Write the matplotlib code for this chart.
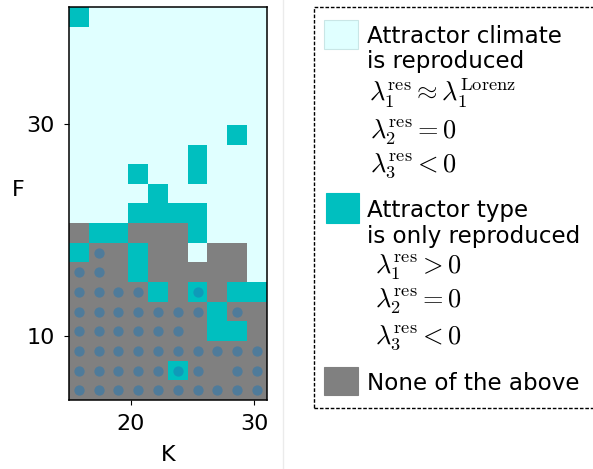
import numpy as np
import matplotlib
matplotlib.use("Agg")
import matplotlib.pyplot as plt
from matplotlib.colors import ListedColormap
from matplotlib.patches import Rectangle
from matplotlib.lines import Line2D

plt.rcParams["mathtext.fontset"] = "cm"

# Grid of reservoir hyper-parameters
K_values = [15.8, 17.4, 19.0, 20.6, 22.2, 23.8, 25.4, 27.0, 28.6, 30.2]
F_values = [4.925, 6.775, 8.625, 10.475, 12.325, 14.175, 16.025, 17.875,
            19.725, 21.575, 23.425, 25.275, 27.125, 28.975, 30.825,
            32.675, 34.525, 36.375, 38.225, 40.075]

# Outcome per cell, rows listed from the largest F down to the smallest.
# L = climate reproduced, C = attractor type only, G = none of the above
outcome_rows = [
    "CLLLLLLLLL",
    "LLLLLLLLLL",
    "LLLLLLLLLL",
    "LLLLLLLLLL",
    "LLLLLLLLLL",
    "LLLLLLLLLL",
    "LLLLLLLLCL",
    "LLLLLLCLLL",
    "LLLCLLCLLL",
    "LLLLCLLLLL",
    "LLLCCCCLLL",
    "GCCGGGCLLL",
    "CGGCGGLGGL",
    "GGGCGGGGGL",
    "GGGGCGCGCC",
    "GGGGGGGCGG",
    "GGGGGGGCCG",
    "GGGGGGGGGG",
    "GGGGGCGGGG",
    "GGGGGGGGGG",
]

# Cells flagged with a marker, same row order (1 = marked)
marker_rows = [
    "0000000000",
    "0000000000",
    "0000000000",
    "0000000000",
    "0000000000",
    "0000000000",
    "0000000000",
    "0000000000",
    "0000000000",
    "0000000000",
    "0000000000",
    "0000000000",
    "0100000000",
    "1100000000",
    "1111001000",
    "1111111010",
    "1111110000",
    "1111111111",
    "1111111011",
    "1111111111",
]

legend_labels = ["Attractor climate\nis reproduced",
                 "Attractor type\nis only reproduced",
                 "None of the above"]

col_light = "#e0ffff"
col_cyan = "#00bfbf"
col_gray = "#808080"

code_map = {"L": 0, "C": 1, "G": 2}
grid = np.array([[code_map[ch] for ch in row] for row in outcome_rows[::-1]])
marks = np.array([[int(ch) for ch in row] for row in marker_rows[::-1]])

K = np.array(K_values)
F = np.array(F_values)


def edges(c):
    mid = (c[:-1] + c[1:]) / 2
    return np.concatenate([[c[0] - (mid[0] - c[0])], mid,
                           [c[-1] + (c[-1] - mid[-1])]])


W, H = 593, 469
fig = plt.figure(figsize=(W / 100, H / 100), dpi=100)


def fx(x):
    return x / W


def fy(y):
    return 1 - y / H


ax_x0, ax_x1, ax_y0, ax_y1 = 69, 266.7, 7, 400
ax = fig.add_axes([fx(ax_x0), fy(ax_y1), (ax_x1 - ax_x0) / W, (ax_y1 - ax_y0) / H])
cmap = ListedColormap([col_light, col_cyan, col_gray])
Ke, Fe = edges(K), edges(F)
ax.pcolormesh(Ke, Fe, grid, cmap=cmap, vmin=-0.5, vmax=2.5)

KK, FF = np.meshgrid(K, F)
sel = marks == 1
ax.scatter(KK[sel], FF[sel], s=55, color="#1f77b4", alpha=0.5,
           linewidths=0, zorder=3)

ax.set_xlim(Ke[0], Ke[-1])
ax.set_ylim(Fe[0], Fe[-1])
ax.set_xticks([20, 30])
ax.set_yticks([10, 30])
ax.tick_params(labelsize=16, pad=6.5)
ax.set_xlabel("K", fontsize=16, labelpad=8)
ax.set_ylabel("F", fontsize=16, rotation=0, ha="center", va="center")
ax.yaxis.set_label_coords((18 - ax_x0) / (ax_x1 - ax_x0),
                          (ax_y1 - 190) / (ax_y1 - ax_y0))
for sp in ax.spines.values():
    sp.set_linewidth(1.1)

# thin separator between panel and legend
fig.add_artist(Line2D([fx(283), fx(283)], [0, 1], color="#ebebeb",
                      lw=1.0, transform=fig.transFigure))

# legend frame
fig.add_artist(Rectangle((fx(313.5), fy(408.3)), fx(700) - fx(313.5),
                         fy(6.7) - fy(408.3), transform=fig.transFigure,
                         fill=False, edgecolor="black", lw=1.0,
                         linestyle=(0, (2.6, 1.3))))

patches = [((324.3, 20, 357.7, 49.3), col_light),
           ((326.0, 193.3, 359.3, 222.7), col_cyan),
           ((324.3, 366.7, 357.7, 395.0), col_gray)]
for (x0, y0, x1, y1), c in patches:
    fig.add_artist(Rectangle((fx(x0), fy(y1)), fx(x1) - fx(x0),
                             fy(y0) - fy(y1), transform=fig.transFigure,
                             facecolor=c, edgecolor="#c9e6e6" if c == col_light else c,
                             lw=0.8))

fs = 16.6
ms = 19
line1, line2 = legend_labels[0].split("\n")
fig.text(fx(367), fy(43), line1, fontsize=fs, va="baseline")
fig.text(fx(367), fy(68), line2, fontsize=fs, va="baseline")
fig.text(fx(369), fy(101.5), r"$\lambda_1^{\mathrm{res}} \approx \lambda_1^{\mathrm{Lorenz}}$",
         fontsize=ms, va="baseline")
fig.text(fx(370), fy(138.5), r"$\lambda_2^{\mathrm{res}} = 0$", fontsize=ms, va="baseline")
fig.text(fx(370), fy(172), r"$\lambda_3^{\mathrm{res}} < 0$", fontsize=ms, va="baseline")

line1, line2 = legend_labels[1].split("\n")
fig.text(fx(367), fy(216.5), line1, fontsize=fs, va="baseline")
fig.text(fx(367), fy(243.3), line2, fontsize=fs, va="baseline")
fig.text(fx(375), fy(273.3), r"$\lambda_1^{\mathrm{res}} > 0$", fontsize=ms, va="baseline")
fig.text(fx(375), fy(307), r"$\lambda_2^{\mathrm{res}} = 0$", fontsize=ms, va="baseline")
fig.text(fx(375), fy(344.5), r"$\lambda_3^{\mathrm{res}} < 0$", fontsize=ms, va="baseline")

fig.text(fx(367), fy(390), legend_labels[2], fontsize=fs, va="baseline")

fig.savefig("out.png", dpi=100)
